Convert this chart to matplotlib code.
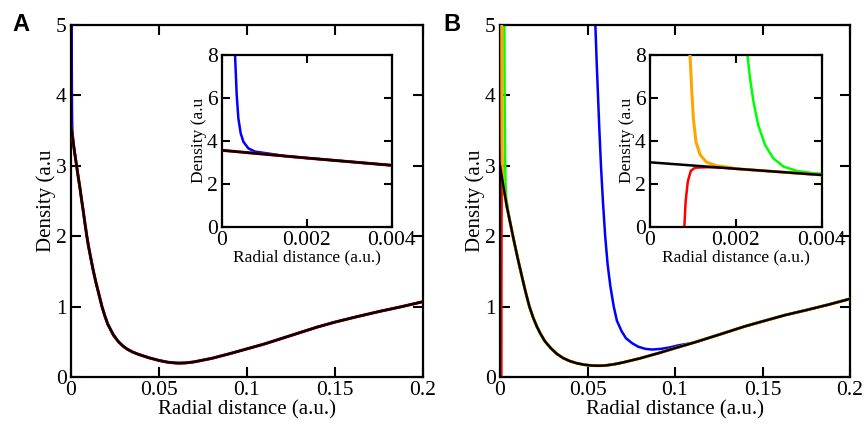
import numpy as np
import matplotlib
matplotlib.use('Agg')
import matplotlib.pyplot as plt
from matplotlib.ticker import FormatStrFormatter

# ---- panel A ----
a_black_x = [0, 0.001, 0.002, 0.003, 0.004, 0.005, 0.006, 0.007, 0.008, 0.009,
             0.010, 0.011, 0.0125, 0.014, 0.0155, 0.0176, 0.0192, 0.0209,
             0.024, 0.027, 0.0295, 0.032, 0.035, 0.038, 0.044, 0.05, 0.055,
             0.059, 0.061, 0.065, 0.07, 0.075, 0.08, 0.09, 0.1, 0.11, 0.125,
             0.14, 0.15, 0.163, 0.175, 0.188, 0.2]
a_black_y = [3.56, 3.38, 3.2, 3.03, 2.86, 2.70, 2.52, 2.35, 2.17, 2.0,
             1.85, 1.72, 1.53, 1.36, 1.21, 1.0, 0.87, 0.75,
             0.60, 0.50, 0.44, 0.395, 0.355, 0.325, 0.275, 0.235, 0.21,
             0.2, 0.197, 0.2, 0.215, 0.24, 0.265, 0.33, 0.40, 0.47, 0.59,
             0.71, 0.78, 0.86, 0.93, 1.0, 1.07]
a_red_y = a_black_y
a_blue_x = [0.00028, 0.000314, 0.000353, 0.000392, 0.000447, 0.00051,
            0.000627, 0.000784, 0.00106, 0.0015]
a_blue_y = [10, 8.0, 6.14, 5.05, 4.35, 3.96, 3.65, 3.50, 3.42, 3.29]

# ---- panel B ----
b_black_x = [0, 0.002, 0.004, 0.006, 0.008, 0.010, 0.0125, 0.0145, 0.0168,
             0.019, 0.021, 0.023, 0.0256, 0.029, 0.0324, 0.036, 0.04, 0.044,
             0.048, 0.052, 0.056, 0.06, 0.065, 0.07, 0.075, 0.08, 0.09, 0.1,
             0.111, 0.125, 0.14, 0.15, 0.163, 0.175, 0.188, 0.2]
b_black_y = [3.0, 2.70, 2.41, 2.17, 1.93, 1.70, 1.43, 1.22, 1.0,
             0.84, 0.72, 0.62, 0.51, 0.41, 0.33, 0.27, 0.225, 0.195,
             0.175, 0.163, 0.16, 0.163, 0.18, 0.205, 0.235, 0.265, 0.335, 0.41,
             0.49, 0.60, 0.72, 0.79, 0.88, 0.95, 1.03, 1.11]
b_orange_x = [0.0009, 0.000932, 0.00097, 0.00101, 0.00107, 0.00117, 0.00132,
              0.00155, 0.00186]
b_orange_y = [9.5, 8.0, 6.45, 5.05, 3.96, 3.34, 3.0, 2.84, 2.76]
b_red_x = [0.00078, 0.0008, 0.00083, 0.00088, 0.00095, 0.00105, 0.00132, 0.0016]
b_red_y = [-1.0, 0.0, 1.17, 2.1, 2.6, 2.75, 2.77, 2.76]
b_green_x = [0.0022, 0.00227, 0.00233, 0.00241, 0.00252, 0.00268, 0.00287,
             0.00311, 0.00342, 0.00381, 0.004, 0.0045]
b_green_y = [9.5, 8.0, 6.91, 5.83, 4.74, 3.81, 3.19, 2.80, 2.60, 2.49, 2.47, 2.39]
b_blue_x = [0.0538, 0.0545, 0.0552, 0.056, 0.0568, 0.0577, 0.0588, 0.0601,
            0.0615, 0.063, 0.065, 0.0668, 0.0695, 0.072, 0.0755, 0.079, 0.083,
            0.087, 0.092, 0.097, 0.102, 0.109]
b_blue_y = [5.4, 5.0, 4.5, 4.0, 3.5, 3.0, 2.5, 2.0, 1.6, 1.3, 1.0, 0.8, 0.65,
            0.55, 0.48, 0.43, 0.40, 0.39, 0.40, 0.42, 0.45, 0.48]

main_xticks = [0, 0.05, 0.1, 0.15, 0.2]
main_yticks = [0, 1, 2, 3, 4, 5]
inset_xticks = [0, 0.002, 0.004]
inset_yticks = [0, 2, 4, 6, 8]

BLUE = '#0000ff'
RED = '#ff0000'
ORANGE = '#ffa500'
GREEN = '#00ff00'

plt.rcParams['font.family'] = ['Liberation Serif', 'DejaVu Serif']


def join(sx, sy, bx, by):
    # spike part followed by the reference (black) curve after the merge
    bx = np.asarray(bx)
    by = np.asarray(by)
    keep = bx > sx[-1]
    return np.concatenate([sx, bx[keep]]), np.concatenate([sy, by[keep]])


def style(ax, xticks, yticks, xlim, ylim, ticklen, labelsize, labelpad):
    ax.set_xlim(*xlim)
    ax.set_ylim(*ylim)
    ax.set_xticks(xticks)
    ax.set_yticks(yticks)
    ax.xaxis.set_major_formatter(FormatStrFormatter('%g'))
    ax.yaxis.set_major_formatter(FormatStrFormatter('%g'))
    ax.tick_params(direction='in', top=True, right=True, length=ticklen,
                   width=1.5, labelsize=15.5, pad=3)
    for s in ax.spines.values():
        s.set_linewidth(1.6)
    ax.set_xlabel('Radial distance (a.u.)', fontsize=labelsize, labelpad=labelpad)
    ax.set_ylabel('Density (a.u', fontsize=labelsize, labelpad=labelpad)


fig = plt.figure(figsize=(8.64, 4.24), dpi=100)

lw = 1.8
for panel in ['A', 'B']:
    if panel == 'A':
        ax = fig.add_axes([71 / 864, 47 / 424, 352 / 864, 352 / 424])
        ins = fig.add_axes([221.7 / 864, 197.3 / 424, 170 / 864, 171.7 / 424])
    else:
        ax = fig.add_axes([500 / 864, 47 / 424, 350 / 864, 352 / 424])
        ins = fig.add_axes([650 / 864, 197.3 / 424, 171.7 / 864, 171.7 / 424])

    for a in (ax, ins):
        if panel == 'A':
            bx, by = join(a_blue_x, a_blue_y, a_black_x, a_black_y)
            a.plot(bx, by, color=BLUE, lw=lw, zorder=2)
            a.plot(a_black_x, a_red_y, color=RED, lw=lw + 0.4, zorder=3)
            a.plot(a_black_x, a_black_y, color='black', lw=lw, zorder=4)
        else:
            x, y = join(b_blue_x, b_blue_y, b_black_x, b_black_y)
            a.plot(x, y, color=BLUE, lw=lw, zorder=2)
            x, y = join(b_green_x, b_green_y, b_black_x, b_black_y)
            a.plot(x, y, color=GREEN, lw=lw, zorder=2)
            x, y = join(b_red_x, b_red_y, b_black_x, b_black_y)
            a.plot(x, y, color=RED, lw=lw, zorder=2)
            x, y = join(b_orange_x, b_orange_y, b_black_x, b_black_y)
            a.plot(x, y, color=ORANGE, lw=lw + 0.4, zorder=3)
            a.plot(b_black_x, b_black_y, color='black', lw=lw, zorder=4)

    style(ax, main_xticks, main_yticks, (0, 0.2), (0, 5), 7, 15, 0)
    style(ins, inset_xticks, inset_yticks, (0, 0.004), (0, 8), 6, 12.5, 0)

fig.text(12 / 864, 1 - 13 / 424, 'A', fontsize=17, fontweight='bold',
         family='Liberation Sans', va='top', ha='left')
fig.text(443 / 864, 1 - 13 / 424, 'B', fontsize=17, fontweight='bold',
         family='Liberation Sans', va='top', ha='left')

fig.savefig('out.png', dpi=100)
